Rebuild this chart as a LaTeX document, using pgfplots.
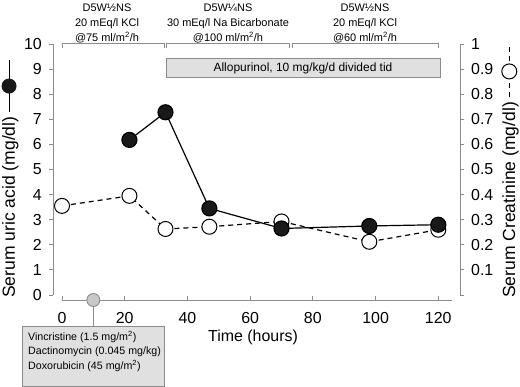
\documentclass[border=0pt]{standalone}
\usepackage{pgfplots}
\pgfplotsset{compat=1.18}
\usepackage{fontspec}
\setmainfont{Liberation Sans}
\definecolor{axgray}{RGB}{140,140,140}
\definecolor{boxfill}{RGB}{224,224,224}
\definecolor{dotfill}{RGB}{200,200,200}
\begin{document}
\begin{tikzpicture}
\useasboundingbox (0,0) rectangle (520bp,387bp);
\pgfplotsset{
  common/.style={
    scale only axis, anchor=south west,
    /pgf/number format/assume math mode=true,
    tick label style={font=\fontsize{16}{18}\selectfont, inner sep=0pt, text=black},
    axis line style={axgray, line width=0.9bp},
    major tick style={axgray, line width=0.9bp},
    major tick length=4bp,
    clip=false,
  }
}
% right axis: creatinine
\begin{axis}[common, at={(53bp,92bp)}, width=407bp, height=251bp,
  xmin=-2.87, xmax=126.92, ymin=0, ymax=1,
  axis x line=none, axis y line*=right, tick align=outside,
  ytick={0,0.1,0.2,0.3,0.4,0.5,0.6,0.7,0.8,0.9,1},
  yticklabels={,0.1,0.2,0.3,0.4,0.5,0.6,0.7,0.8,0.9,1},
  yticklabel style={anchor=west, xshift=7bp}]
\addplot[black, line width=1.2bp, dash pattern=on 5bp off 4bp, mark=*, mark size=7.5bp,
  mark options={solid, fill=white, draw=black, line width=1bp}]
  coordinates {(0,0.355) (21.5,0.395) (33,0.263) (47,0.272) (70,0.293) (98,0.212) (120,0.260)};
\end{axis}
% left axis: uric acid
\begin{axis}[common, at={(53bp,92bp)}, width=407bp, height=251bp,
  xmin=-2.87, xmax=126.92, ymin=0, ymax=10,
  axis x line=none, axis y line*=left, tick align=outside,
  ytick={0,1,2,3,4,5,6,7,8,9,10},
  yticklabel style={anchor=east, xshift=-7bp}]
\addplot[black, line width=1.2bp, mark=*, mark size=7.5bp,
  mark options={fill=black!90, draw=black}]
  coordinates {(21.5,6.18) (33,7.28) (47,3.45) (70,2.65) (98,2.75) (120,2.8)};
\end{axis}
% chemo connector
\draw[axgray, line width=0.9bp] (93.3bp,87bp) -- (93.3bp,61bp);
% bottom axis
\begin{axis}[common, at={(62bp,87bp)}, width=390.4bp, height=10bp,
  xmin=0, xmax=124.5, ymin=0, ymax=1,
  axis y line=none, axis x line*=bottom, tick align=inside,
  xtick={0,20,40,60,80,100,120},
  xticklabel style={anchor=north, yshift=-12bp}]
\addplot[only marks, mark=*, mark size=6.5bp,
  mark options={fill=dotfill, draw=axgray, line width=0.9bp}]
  coordinates {(10,0)};
\end{axis}
\node[font=\fontsize{16}{18}\selectfont] at (253bp,50bp) {Time (hours)};
% y labels with keys
\node[rotate=90, anchor=west, inner sep=0pt, font=\fontsize{17.6}{20}\selectfont] at (10bp,89bp)
  {Serum uric acid (mg/dl)\hspace{4bp}\tikz[baseline=-0.33em]{\draw[line width=1bp] (0,0) -- (52bp,0); \fill[black!90] (26bp,0) circle (7.5bp);}};
\node[rotate=90, anchor=west, inner sep=0pt, font=\fontsize{17.6}{20}\selectfont] at (510bp,89bp)
  {Serum Creatinine (mg/dl)\hspace{4bp}\tikz[baseline=-0.33em]{\draw[line width=1bp, dash pattern=on 5bp off 4bp] (0,0) -- (52bp,0); \filldraw[fill=white, draw=black, line width=1bp] (26bp,0) circle (7.5bp);}};
% top brackets
\begin{scope}[axgray, line width=0.9bp]
\draw (62bp,339bp) -- (62bp,344bp) -- (164bp,344bp) -- (164bp,339bp);
\draw (166.5bp,339bp) -- (166.5bp,344bp) -- (289bp,344bp) -- (289bp,339bp);
\draw (292bp,339bp) -- (292bp,344bp) -- (438bp,344bp) -- (438bp,339bp);
\end{scope}
\begin{scope}[font=\fontsize{11}{15}\selectfont, align=center]
\node[anchor=north] at (107bp,387bp) {D5W½NS\\20 mEq/l KCl\\@75 ml/m\textsuperscript{2}/h};
\node[anchor=north] at (228bp,387bp) {D5W¼NS\\30 mEq/l Na Bicarbonate\\@100 ml/m\textsuperscript{2}/h};
\node[anchor=north] at (365bp,387bp) {D5W½NS\\20 mEq/l KCl\\@60 ml/m\textsuperscript{2}/h};
\end{scope}
% allopurinol box
\draw[axgray, fill=boxfill, line width=0.9bp] (166.7bp,309.3bp) rectangle (440bp,328.7bp);
\node[font=\fontsize{12}{14}\selectfont] at (303bp,319bp) {Allopurinol, 10 mg/kg/d divided tid};
% chemo box
\draw[axgray, fill=boxfill, line width=0.9bp] (22bp,1bp) rectangle (164bp,61bp);
\node[anchor=north west, align=left, font=\fontsize{10.7}{14.5}\selectfont, inner sep=0pt] at (28bp,56bp)
  {Vincristine (1.5 mg/m\textsuperscript{2})\\Dactinomycin (0.045 mg/kg)\\Doxorubicin (45 mg/m\textsuperscript{2})};
\end{tikzpicture}
\end{document}
